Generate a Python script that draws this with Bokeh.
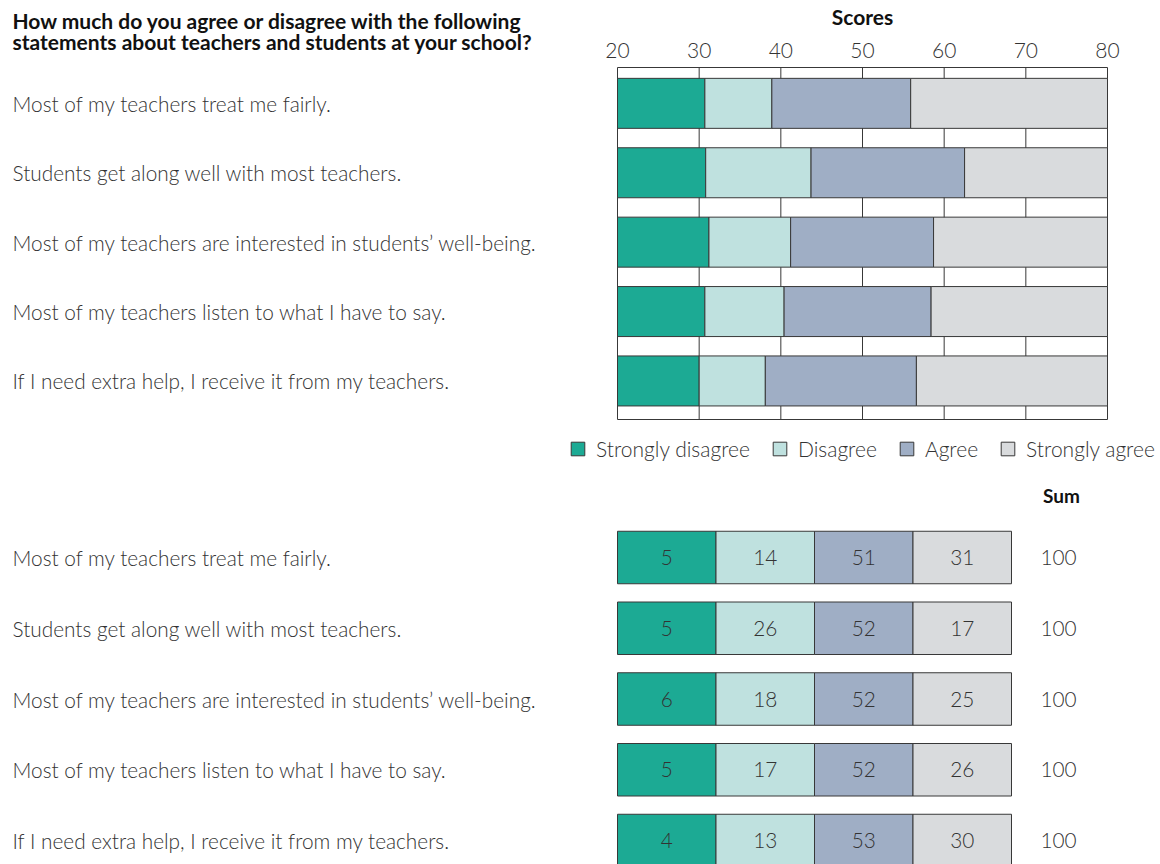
from bokeh.plotting import figure
from bokeh.models import (Range1d, FixedTicker, Legend, LegendItem,
                          ColumnDataSource, LinearAxis)
from bokeh.embed import file_html
from bokeh.resources import INLINE
from bokeh.core.properties import value

# ---------------- data ----------------
TITLE_LINES = ["How much do you agree or disagree with the following",
               "statements about teachers and students at your school?"]
STATEMENTS = [
    "Most of my teachers treat me fairly.",
    "Students get along well with most teachers.",
    "Most of my teachers are interested in students\u2019 well-being.",
    "Most of my teachers listen to what I have to say.",
    "If I need extra help, I receive it from my teachers.",
]
CATEGORIES = ["Strongly disagree", "Disagree", "Agree", "Strongly agree"]
COLORS = ["#1CAA94", "#BFE1DF", "#9FAEC5", "#D9DBDD"]

SCORE_TICKS = [20, 30, 40, 50, 60, 70, 80]
SCORE_MIN = 20
SCORE_MAX = 80
# score thresholds (end of each response band)
SD_END = [30.7, 30.8, 31.2, 30.7, 30.0]
D_END = [38.9, 43.7, 41.2, 40.4, 38.1]
A_END = [55.9, 62.5, 58.7, 58.4, 56.6]

# percentages
PCT_SD = [5, 5, 6, 5, 4]
PCT_D = [14, 26, 18, 17, 13]
PCT_A = [51, 52, 52, 52, 53]
PCT_SA = [31, 17, 25, 26, 30]
SUM = [100, 100, 100, 100, 100]

FONT = "Lato Light"
BOLD_FONT = "Lato"
TXT = "#333333"
DARK = "#111111"
LINE = "#383838"

n = len(STATEMENTS)
rows = list(range(n))

# ---------------- geometry (picture pixels) ----------------
W, H = 1160, 864
CH_L, CH_R = 617, 1107             # score chart left / right
CH_T, CH_B = 67, 419               # score chart top / bottom
ROW_PX, ROW0 = 69.4, 102.85        # score chart rows
CELL = 98.5                        # table cell width
ROW2_PX, ROW2_0 = 70.75, 557       # table rows

kx = (CH_R - CH_L) / (SCORE_MAX - SCORE_MIN)


def sx(px):          # picture x -> score units
    return SCORE_MIN + (px - CH_L) / kx


def sy(py):          # picture y -> score chart row units
    return (py - ROW0) / ROW_PX


def cx(px):          # picture x -> table cell units
    return (px - CH_L) / CELL


def cy(py):          # picture y -> table row units
    return (py - ROW2_0) / ROW2_PX


p = figure(width=W, height=H,
           x_range=Range1d(sx(0), sx(W)),
           y_range=Range1d(sy(H), sy(0)),
           output_backend="svg", toolbar_location=None,
           x_axis_location=None, y_axis_location=None,
           min_border=0, min_border_left=0, min_border_right=0,
           min_border_top=0, min_border_bottom=0)
p.extra_x_ranges = {"cells": Range1d(cx(0), cx(W))}
p.extra_y_ranges = {"table": Range1d(cy(H), cy(0))}
p.outline_line_color = None
p.grid.visible = False
p.background_fill_color = "white"
p.border_fill_color = "white"

# score axis, drawn on top of the score chart
ax = LinearAxis(fixed_location=sy(CH_T), ticker=FixedTicker(ticks=SCORE_TICKS))
ax.axis_line_color = None
ax.major_tick_line_color = None
ax.minor_tick_line_color = None
ax.major_label_standoff = 4
ax.major_label_text_font = FONT
ax.major_label_text_font_size = "21px"
ax.major_label_text_color = TXT
p.add_layout(ax, "above")

# ---------------- score chart ----------------
yt, yb = sy(CH_T), sy(CH_B)
p.segment(x0=SCORE_TICKS, x1=SCORE_TICKS, y0=[yt] * len(SCORE_TICKS),
          y1=[yb] * len(SCORE_TICKS), line_color=LINE, line_width=1)
p.segment(x0=[SCORE_MIN, SCORE_MIN], x1=[SCORE_MAX, SCORE_MAX], y0=[yt, yb], y1=[yt, yb],
          line_color=LINE, line_width=1)

starts = [[SCORE_MIN] * n, SD_END, D_END, A_END]
ends = [SD_END, D_END, A_END, [SCORE_MAX] * n]
renderers = []
for i, cat in enumerate(CATEGORIES):
    src = ColumnDataSource(dict(y=rows, left=starts[i], right=ends[i]))
    r = p.hbar(y="y", left="left", right="right", height=50 / ROW_PX, source=src,
               fill_color=COLORS[i], line_color=LINE, line_width=1)
    renderers.append(r)

p.text(x=[sx(12)] * n, y=rows, text=STATEMENTS, text_align="left", text_baseline="middle",
       text_font=value(FONT), text_font_size="20.8px", text_color=TXT)

legend = Legend(items=[LegendItem(label=c, renderers=[r]) for c, r in zip(CATEGORIES, renderers)],
                orientation="horizontal", location=(569, H - 461),
                border_line_color=None, background_fill_alpha=0,
                label_text_font=FONT, label_text_font_size="21px", label_text_color=TXT,
                glyph_width=17, glyph_height=17, label_standoff=10, spacing=21,
                padding=0, margin=0)
p.add_layout(legend, "center")

p.text(x=[sx(12)] * 2, y=[sy(20), sy(41)], text=TITLE_LINES, text_align="left",
       text_baseline="middle", text_font=value(BOLD_FONT), text_font_size="21px",
       text_font_style="bold", text_color=DARK)
p.text(x=[(SCORE_MIN + SCORE_MAX) / 2], y=[sy(16)], text=["Scores"], text_align="center",
       text_baseline="middle", text_font=value(BOLD_FONT), text_font_size="21px",
       text_font_style="bold", text_color=DARK)

# ---------------- table ----------------
pcts = [PCT_SD, PCT_D, PCT_A, PCT_SA]
for j in range(4):
    src = ColumnDataSource(dict(y=rows, left=[j] * n, right=[j + 1] * n,
                                xc=[j + 0.5] * n, t=[str(v) for v in pcts[j]]))
    p.hbar(y="y", left="left", right="right", height=52.5 / ROW2_PX, source=src,
           fill_color=COLORS[j], line_color=LINE, line_width=1,
           x_range_name="cells", y_range_name="table")
    p.text(x="xc", y="y", text="t", source=src, text_align="center",
           text_baseline="middle", text_font=value(FONT), text_font_size="20.8px",
           text_color=TXT, x_range_name="cells", y_range_name="table")

p.text(x=[cx(1058)] * n, y=rows, text=[str(s) for s in SUM], text_align="center",
       text_baseline="middle", text_font=value(FONT), text_font_size="20.8px", text_color=TXT,
       x_range_name="cells", y_range_name="table")
p.text(x=[cx(1061)], y=[cy(495)], text=["Sum"], text_align="center", text_baseline="middle",
       text_font=value(BOLD_FONT), text_font_size="19px", text_font_style="bold",
       text_color=DARK, x_range_name="cells", y_range_name="table")
p.text(x=[cx(12)] * n, y=rows, text=STATEMENTS, text_align="left", text_baseline="middle",
       text_font=value(FONT), text_font_size="20.8px", text_color=TXT,
       x_range_name="cells", y_range_name="table")

open("out.html", "w").write(file_html(p, INLINE))
